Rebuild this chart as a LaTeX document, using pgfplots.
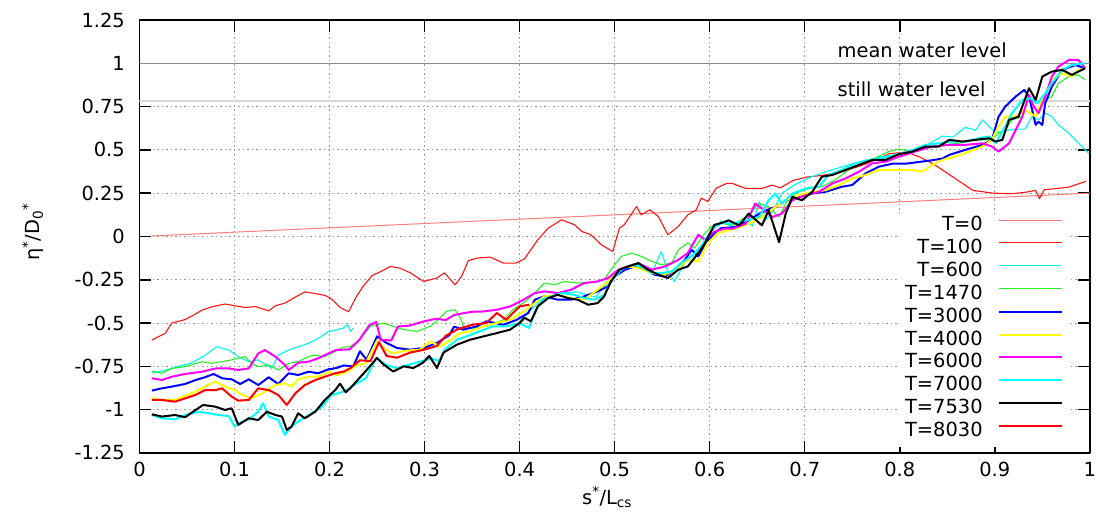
\documentclass[border=0pt]{standalone}
\usepackage{pgfplots}
\pgfplotsset{compat=1.18}
\usepackage{fontspec}
\setmainfont{DejaVu Sans}
\definecolor{cT0}{RGB}{255,125,125}
\definecolor{cT100}{RGB}{255,20,20}
\definecolor{cT600}{RGB}{0,245,245}
\definecolor{cT1470}{RGB}{40,240,40}
\definecolor{cT3000}{RGB}{0,0,255}
\definecolor{cT4000}{RGB}{255,255,0}
\definecolor{cT6000}{RGB}{255,0,255}
\definecolor{cT7000}{RGB}{0,255,255}
\definecolor{cT7530}{RGB}{0,0,0}
\definecolor{cT8030}{RGB}{255,0,0}
\newcommand{\fs}{\fontsize{19.5}{23}\selectfont}
\begin{document}
\begin{tikzpicture}[font=\fs]
\begin{axis}[
  scale only axis, width=950.5bp, height=433bp,
  xmin=0, xmax=1, ymin=-1.25, ymax=1.25,
  xtick={0,0.1,0.2,0.3,0.4,0.5,0.6,0.7,0.8,0.9,1},
  xticklabels={0,0.1,0.2,0.3,0.4,0.5,0.6,0.7,0.8,0.9,1},
  ytick={-1.25,-1,-0.75,-0.5,-0.25,0,0.25,0.5,0.75,1,1.25},
  yticklabels={-1.25,-1,-0.75,-0.5,-0.25,0,0.25,0.5,0.75,1,1.25},
  tick align=inside, major tick length=12bp,
  tick style={black, line width=1.5bp},
  axis line style={black, line width=1.5bp},
  grid=major,
  major grid style={gray!80, dash pattern=on 1.5bp off 3bp, line width=0.8bp},
  tick label style={font=\fs},
  xticklabel style={font=\fs, anchor=north, inner sep=0pt, yshift=-9bp},
  yticklabel style={font=\fs, anchor=east, inner sep=0pt, xshift=-14.5bp},
  xlabel={s\textsuperscript{*}/L\textsubscript{cs}},
  ylabel={η\textsuperscript{*}/D\textsubscript{0}\textsuperscript{*}},
  xlabel style={font=\fs, at={(axis description cs:0.492,-0.102)}, anchor=center},
  ylabel style={font=\fs, at={(axis description cs:-0.112,0.51)}, anchor=center},
  legend plot pos=right,
  legend cell align=right,
  legend image code/.code={\draw[#1] (0bp,7bp) -- (63bp,7bp);},
  legend style={draw=none, fill=white, font=\fs,
    at={(axis description cs:0.98,0.5533)}, anchor=north east,
    inner xsep=8bp, inner ysep=2bp, row sep=0bp,
    nodes={inner sep=0bp, text height=15bp, text depth=7.9bp},
    /tikz/column sep=15bp},
  line join=round,
]
\addplot[forget plot, gray!90, line width=1bp] coordinates {(0,1)(1,1)};
\addplot[forget plot, gray!30, line width=2bp] coordinates {(0,0.782)(1,0.782)};
\node[anchor=west, font=\fs] at (axis cs:0.731,1.077) {mean water level};
\node[anchor=west, font=\fs] at (axis cs:0.731,0.85) {still water level};

% T=0
\addplot[cT0, line width=1bp] coordinates {(0.013,0.003)(1,0.25)};
\addlegendentry{T=0}
% T=100
\addplot[cT100, line width=1.1bp] coordinates {
(0.013,-0.598)(0.027,-0.56)(0.034,-0.50)(0.048,-0.48)(0.055,-0.46)(0.066,-0.425)(0.077,-0.405)(0.09,-0.39)(0.10,-0.40)(0.111,-0.41)(0.122,-0.405)(0.136,-0.43)(0.143,-0.40)(0.153,-0.385)(0.164,-0.35)(0.174,-0.32)(0.185,-0.33)(0.195,-0.34)(0.202,-0.36)(0.211,-0.41)(0.22,-0.435)(0.228,-0.35)(0.235,-0.29)(0.245,-0.225)(0.255,-0.2)(0.264,-0.173)(0.274,-0.183)(0.285,-0.21)(0.299,-0.26)(0.313,-0.24)(0.321,-0.21)(0.332,-0.28)(0.339,-0.23)(0.346,-0.14)(0.355,-0.125)(0.369,-0.119)(0.383,-0.154)(0.396,-0.154)(0.405,-0.13)(0.419,-0.02)(0.43,0.048)(0.444,0.096)(0.458,0.067)(0.465,0.03)(0.475,0.01)(0.486,-0.048)(0.498,-0.087)(0.505,0.048)(0.51,0.067)(0.523,0.173)(0.528,0.125)(0.537,0.154)(0.546,0.115)(0.556,0.01)(0.567,0.058)(0.577,0.125)(0.586,0.154)(0.591,0.221)(0.598,0.202)(0.607,0.279)(0.618,0.307)(0.624,0.306)(0.638,0.277)(0.655,0.277)(0.666,0.297)(0.674,0.28)(0.688,0.324)(0.702,0.343)(0.719,0.353)(0.744,0.381)(0.765,0.42)(0.789,0.478)(0.807,0.487)(0.821,0.459)(0.835,0.42)(0.856,0.343)(0.877,0.266)(0.898,0.25)(0.919,0.247)(0.933,0.256)(0.943,0.266)(0.947,0.218)(0.952,0.27)(0.964,0.276)(0.978,0.285)(0.996,0.318)};
\addlegendentry{T=100}
% T=600
\addplot[cT600, line width=1.1bp, unbounded coords=jump] coordinates {
(0.013,-0.79)(0.025,-0.775)(0.04,-0.752)(0.055,-0.73)(0.068,-0.69)(0.081,-0.637)(0.094,-0.656)(0.104,-0.694)(0.115,-0.723)(0.125,-0.713)(0.134,-0.742)(0.139,-0.762)(0.146,-0.685)(0.157,-0.656)(0.167,-0.637)(0.178,-0.617)(0.188,-0.588)(0.199,-0.55)(0.207,-0.54)(0.214,-0.53)(0.219,-0.51)(0.222,-0.548)(0.225,-0.53)(0.3,nan)
(0.40,-0.49)(0.42,-0.38)(0.44,-0.33)(0.46,-0.32)(0.48,-0.35)(0.495,-0.25)(0.51,-0.18)(0.525,-0.16)(0.54,-0.2)(0.549,-0.087)(0.556,-0.2)(0.563,-0.26)(0.575,-0.14)(0.59,-0.06)(0.6,0.02)(0.612,0.09)(0.625,0.05)(0.638,0.1)(0.645,0.06)(0.652,0.2)(0.66,0.1)(0.668,0.16)(0.676,0.25)(0.69,0.3)(0.705,0.34)(0.72,0.37)(0.744,0.41)(0.779,0.459)(0.814,0.487)(0.831,0.536)(0.845,0.58)(0.856,0.574)(0.869,0.63)(0.88,0.613)(0.887,0.673)(0.894,0.635)(0.901,0.6)(0.911,0.61)(0.922,0.62)(0.932,0.62)(0.939,0.692)(0.946,0.673)(0.953,0.712)(0.96,0.692)(0.967,0.644)(0.978,0.596)(0.988,0.538)(0.999,0.48)};
\addlegendentry{T=600}
% T=1470
\addplot[cT1470, line width=1.1bp] coordinates {
(0.013,-0.777)(0.0235,-0.79)(0.034,-0.762)(0.048,-0.752)(0.066,-0.723)(0.076,-0.733)(0.087,-0.723)(0.097,-0.713)(0.111,-0.694)(0.118,-0.733)(0.125,-0.752)(0.136,-0.742)(0.146,-0.771)(0.157,-0.733)(0.167,-0.723)(0.178,-0.694)(0.185,-0.685)(0.195,-0.694)(0.202,-0.675)(0.214,-0.64)(0.222,-0.635)(0.232,-0.596)(0.243,-0.519)(0.257,-0.5)(0.267,-0.519)(0.278,-0.538)(0.292,-0.548)(0.306,-0.519)(0.316,-0.471)(0.323,-0.433)(0.332,-0.423)(0.337,-0.462)(0.341,-0.519)(0.351,-0.529)(0.365,-0.519)(0.383,-0.481)(0.393,-0.423)(0.405,-0.38)(0.416,-0.327)(0.426,-0.269)(0.437,-0.279)(0.447,-0.26)(0.461,-0.269)(0.475,-0.265)(0.489,-0.25)(0.496,-0.192)(0.507,-0.115)(0.518,-0.096)(0.528,-0.115)(0.539,-0.144)(0.549,-0.163)(0.56,-0.154)(0.567,-0.077)(0.577,-0.038)(0.584,-0.067)(0.595,0.019)(0.602,0.058)(0.612,0.077)(0.624,0.064)(0.638,0.112)(0.652,0.19)(0.662,0.171)(0.673,0.112)(0.68,0.19)(0.69,0.248)(0.704,0.277)(0.718,0.287)(0.732,0.326)(0.746,0.384)(0.76,0.422)(0.774,0.452)(0.788,0.49)(0.799,0.505)(0.813,0.49)(0.827,0.51)(0.845,0.529)(0.862,0.538)(0.88,0.558)(0.897,0.558)(0.904,0.596)(0.911,0.615)(0.918,0.673)(0.929,0.692)(0.936,0.808)(0.943,0.769)(0.953,0.788)(0.96,0.808)(0.967,0.885)(0.978,0.923)(0.988,0.933)(0.995,0.904)};
\addlegendentry{T=1470}
% T=3000
\addplot[cT3000, line width=2bp] coordinates {
(0.013,-0.89)(0.0235,-0.877)(0.034,-0.867)(0.048,-0.852)(0.059,-0.829)(0.069,-0.813)(0.078,-0.794)(0.087,-0.819)(0.097,-0.825)(0.106,-0.852)(0.115,-0.825)(0.125,-0.858)(0.136,-0.813)(0.146,-0.852)(0.157,-0.79)(0.167,-0.8)(0.178,-0.781)(0.188,-0.79)(0.199,-0.767)(0.207,-0.76)(0.215,-0.745)(0.225,-0.75)(0.232,-0.663)(0.239,-0.712)(0.25,-0.577)(0.26,-0.615)(0.271,-0.644)(0.285,-0.654)(0.299,-0.644)(0.313,-0.615)(0.326,-0.57)(0.331,-0.521)(0.341,-0.538)(0.355,-0.519)(0.365,-0.49)(0.383,-0.51)(0.397,-0.481)(0.409,-0.442)(0.416,-0.365)(0.426,-0.346)(0.44,-0.365)(0.454,-0.365)(0.468,-0.346)(0.482,-0.317)(0.493,-0.288)(0.5,-0.231)(0.511,-0.192)(0.521,-0.173)(0.532,-0.192)(0.542,-0.221)(0.553,-0.231)(0.563,-0.192)(0.574,-0.135)(0.581,-0.077)(0.588,-0.115)(0.596,-0.038)(0.605,0.019)(0.612,0.048)(0.627,0.054)(0.641,0.093)(0.655,0.141)(0.669,0.171)(0.68,0.209)(0.694,0.229)(0.708,0.248)(0.722,0.258)(0.739,0.287)(0.75,0.297)(0.764,0.364)(0.778,0.403)(0.792,0.42)(0.806,0.42)(0.82,0.43)(0.834,0.44)(0.845,0.45)(0.852,0.471)(0.869,0.5)(0.887,0.529)(0.897,0.558)(0.904,0.692)(0.911,0.75)(0.922,0.808)(0.931,0.846)(0.936,0.808)(0.943,0.644)(0.946,0.663)(0.95,0.644)(0.953,0.769)(0.96,0.865)(0.971,0.962)(0.985,0.99)(0.995,0.971)};
\addlegendentry{T=3000}
% T=4000
\addplot[cT4000, line width=2bp] coordinates {
(0.013,-0.935)(0.0235,-0.944)(0.0375,-0.944)(0.048,-0.921)(0.059,-0.896)(0.069,-0.867)(0.08,-0.838)(0.09,-0.867)(0.1,-0.887)(0.108,-0.915)(0.118,-0.935)(0.129,-0.906)(0.143,-0.858)(0.153,-0.848)(0.16,-0.867)(0.167,-0.825)(0.178,-0.81)(0.188,-0.81)(0.199,-0.781)(0.207,-0.8)(0.217,-0.785)(0.228,-0.745)(0.238,-0.732)(0.25,-0.6)(0.256,-0.64)(0.266,-0.675)(0.28,-0.66)(0.295,-0.654)(0.306,-0.605)(0.316,-0.635)(0.327,-0.6)(0.337,-0.558)(0.348,-0.548)(0.362,-0.519)(0.376,-0.5)(0.39,-0.481)(0.405,-0.43)(0.416,-0.385)(0.426,-0.346)(0.44,-0.337)(0.454,-0.356)(0.468,-0.365)(0.482,-0.308)(0.493,-0.26)(0.504,-0.192)(0.514,-0.173)(0.525,-0.183)(0.539,-0.212)(0.553,-0.221)(0.567,-0.183)(0.577,-0.135)(0.588,-0.144)(0.598,-0.038)(0.609,0.019)(0.616,0.03)(0.627,0.045)(0.641,0.074)(0.655,0.112)(0.669,0.171)(0.68,0.209)(0.694,0.238)(0.708,0.258)(0.722,0.267)(0.736,0.297)(0.75,0.335)(0.764,0.355)(0.778,0.384)(0.792,0.384)(0.81,0.385)(0.824,0.375)(0.834,0.413)(0.845,0.442)(0.859,0.462)(0.873,0.49)(0.887,0.519)(0.897,0.558)(0.904,0.635)(0.911,0.692)(0.922,0.692)(0.932,0.731)(0.943,0.692)(0.95,0.788)(0.96,0.904)(0.971,0.942)(0.981,0.923)(0.988,0.962)(0.995,0.971)};
\addlegendentry{T=4000}
% T=6000
\addplot[cT6000, line width=2bp] coordinates {
(0.013,-0.819)(0.0235,-0.829)(0.034,-0.81)(0.048,-0.794)(0.066,-0.781)(0.08,-0.762)(0.094,-0.762)(0.104,-0.771)(0.115,-0.762)(0.125,-0.675)(0.132,-0.656)(0.143,-0.694)(0.153,-0.742)(0.157,-0.771)(0.167,-0.729)(0.178,-0.723)(0.188,-0.704)(0.199,-0.675)(0.207,-0.656)(0.221,-0.652)(0.231,-0.6)(0.242,-0.512)(0.249,-0.494)(0.254,-0.598)(0.265,-0.6)(0.272,-0.52)(0.284,-0.515)(0.298,-0.492)(0.312,-0.475)(0.322,-0.483)(0.331,-0.454)(0.34,-0.444)(0.35,-0.435)(0.362,-0.433)(0.376,-0.423)(0.39,-0.404)(0.403,-0.369)(0.416,-0.327)(0.426,-0.317)(0.44,-0.327)(0.454,-0.308)(0.468,-0.269)(0.482,-0.26)(0.493,-0.24)(0.504,-0.192)(0.514,-0.173)(0.525,-0.154)(0.539,-0.192)(0.553,-0.173)(0.567,-0.135)(0.577,-0.096)(0.588,0.01)(0.595,-0.019)(0.605,0.029)(0.616,0.045)(0.624,0.045)(0.638,0.074)(0.648,0.19)(0.655,0.161)(0.666,0.112)(0.676,0.132)(0.687,0.209)(0.701,0.238)(0.715,0.258)(0.729,0.306)(0.743,0.335)(0.757,0.374)(0.771,0.422)(0.785,0.432)(0.799,0.46)(0.816,0.49)(0.834,0.519)(0.852,0.529)(0.869,0.529)(0.887,0.538)(0.897,0.519)(0.904,0.49)(0.915,0.538)(0.922,0.615)(0.929,0.692)(0.936,0.817)(0.941,0.75)(0.946,0.712)(0.953,0.808)(0.96,0.923)(0.967,0.981)(0.978,1.019)(0.988,1.019)(0.995,0.971)};
\addlegendentry{T=6000}
% T=7000
\addplot[cT7000, line width=2bp] coordinates {
(0.013,-1.031)(0.0235,-1.05)(0.0375,-1.056)(0.048,-1.031)(0.062,-1.012)(0.073,-1.021)(0.083,-1.031)(0.094,-1.037)(0.1,-1.098)(0.104,-1.079)(0.115,-1.056)(0.125,-1.012)(0.13,-0.963)(0.136,-1.04)(0.146,-1.06)(0.153,-1.146)(0.16,-1.098)(0.167,-1.069)(0.178,-1.031)(0.192,-0.983)(0.202,-0.915)(0.207,-0.91)(0.217,-0.89)(0.228,-0.85)(0.238,-0.82)(0.249,-0.7)(0.259,-0.74)(0.27,-0.76)(0.284,-0.74)(0.298,-0.718)(0.308,-0.705)(0.315,-0.72)(0.321,-0.654)(0.334,-0.596)(0.344,-0.577)(0.358,-0.548)(0.372,-0.519)(0.386,-0.519)(0.4,-0.5)(0.41,-0.529)(0.412,-0.49)(0.423,-0.365)(0.433,-0.346)(0.444,-0.327)(0.458,-0.337)(0.468,-0.356)(0.479,-0.365)(0.489,-0.337)(0.496,-0.26)(0.507,-0.192)(0.518,-0.163)(0.528,-0.173)(0.539,-0.212)(0.549,-0.212)(0.56,-0.202)(0.57,-0.154)(0.581,-0.115)(0.591,-0.058)(0.602,0.038)(0.612,0.08)(0.624,0.074)(0.638,0.093)(0.652,0.112)(0.662,0.209)(0.669,0.248)(0.676,0.19)(0.687,0.248)(0.701,0.277)(0.715,0.287)(0.725,0.355)(0.739,0.384)(0.753,0.422)(0.767,0.442)(0.781,0.452)(0.795,0.471)(0.809,0.49)(0.827,0.529)(0.841,0.538)(0.855,0.548)(0.869,0.548)(0.883,0.567)(0.894,0.577)(0.901,0.538)(0.911,0.635)(0.918,0.712)(0.929,0.788)(0.938,0.798)(0.945,0.769)(0.953,0.827)(0.96,0.885)(0.971,0.962)(0.981,0.99)(0.995,1.0)};
\addlegendentry{T=7000}
% T=7530
\addplot[cT7530, line width=2bp] coordinates {
(0.013,-1.027)(0.0235,-1.04)(0.0375,-1.031)(0.048,-1.044)(0.059,-1.002)(0.067,-0.973)(0.08,-0.983)(0.09,-1.002)(0.097,-0.992)(0.104,-1.088)(0.115,-1.05)(0.125,-1.06)(0.134,-1.012)(0.143,-1.031)(0.15,-1.04)(0.155,-1.117)(0.16,-1.098)(0.167,-1.021)(0.174,-1.05)(0.185,-1.012)(0.195,-0.944)(0.206,-0.887)(0.211,-0.85)(0.217,-0.9)(0.222,-0.875)(0.236,-0.79)(0.25,-0.702)(0.257,-0.74)(0.267,-0.78)(0.278,-0.75)(0.288,-0.76)(0.298,-0.73)(0.305,-0.69)(0.313,-0.76)(0.32,-0.67)(0.334,-0.625)(0.348,-0.596)(0.362,-0.577)(0.376,-0.558)(0.39,-0.538)(0.4,-0.5)(0.405,-0.47)(0.412,-0.49)(0.419,-0.404)(0.43,-0.356)(0.44,-0.337)(0.451,-0.356)(0.461,-0.365)(0.472,-0.394)(0.482,-0.385)(0.489,-0.346)(0.496,-0.26)(0.505,-0.192)(0.514,-0.173)(0.525,-0.154)(0.535,-0.192)(0.546,-0.221)(0.556,-0.24)(0.567,-0.192)(0.577,-0.173)(0.588,-0.096)(0.595,-0.038)(0.605,0.067)(0.612,0.077)(0.62,0.093)(0.631,0.064)(0.641,0.132)(0.655,0.064)(0.662,0.151)(0.669,0.035)(0.673,-0.033)(0.68,0.132)(0.687,0.229)(0.697,0.209)(0.708,0.258)(0.718,0.345)(0.729,0.355)(0.743,0.384)(0.757,0.413)(0.771,0.442)(0.785,0.442)(0.799,0.475)(0.813,0.49)(0.827,0.519)(0.841,0.519)(0.852,0.558)(0.866,0.548)(0.88,0.558)(0.894,0.567)(0.901,0.548)(0.908,0.558)(0.915,0.673)(0.925,0.692)(0.936,0.856)(0.943,0.788)(0.95,0.923)(0.96,0.952)(0.971,0.962)(0.981,0.933)(0.988,0.952)(0.995,0.971)};
\addlegendentry{T=7530}
% T=8030
\addplot[cT8030, line width=2bp] coordinates {
(0.013,-0.944)(0.0235,-0.944)(0.0375,-0.954)(0.048,-0.935)(0.059,-0.915)(0.069,-0.887)(0.08,-0.887)(0.087,-0.877)(0.097,-0.925)(0.104,-0.948)(0.115,-0.944)(0.125,-0.877)(0.136,-0.887)(0.146,-0.915)(0.155,-0.973)(0.164,-0.906)(0.174,-0.858)(0.185,-0.829)(0.195,-0.81)(0.206,-0.79)(0.215,-0.78)(0.222,-0.76)(0.232,-0.715)(0.243,-0.72)(0.252,-0.61)(0.26,-0.69)(0.271,-0.70)(0.285,-0.67)(0.299,-0.655)(0.313,-0.632)(0.322,-0.575)(0.335,-0.535)(0.35,-0.51)(0.365,-0.5)(0.376,-0.442)(0.386,-0.481)(0.4,-0.404)(0.41,-0.394)};
\addlegendentry{T=8030}
\end{axis}
\path[use as bounding box] (-139.5bp,-71bp) rectangle (956.5bp,453bp);
\end{tikzpicture}
\end{document}
